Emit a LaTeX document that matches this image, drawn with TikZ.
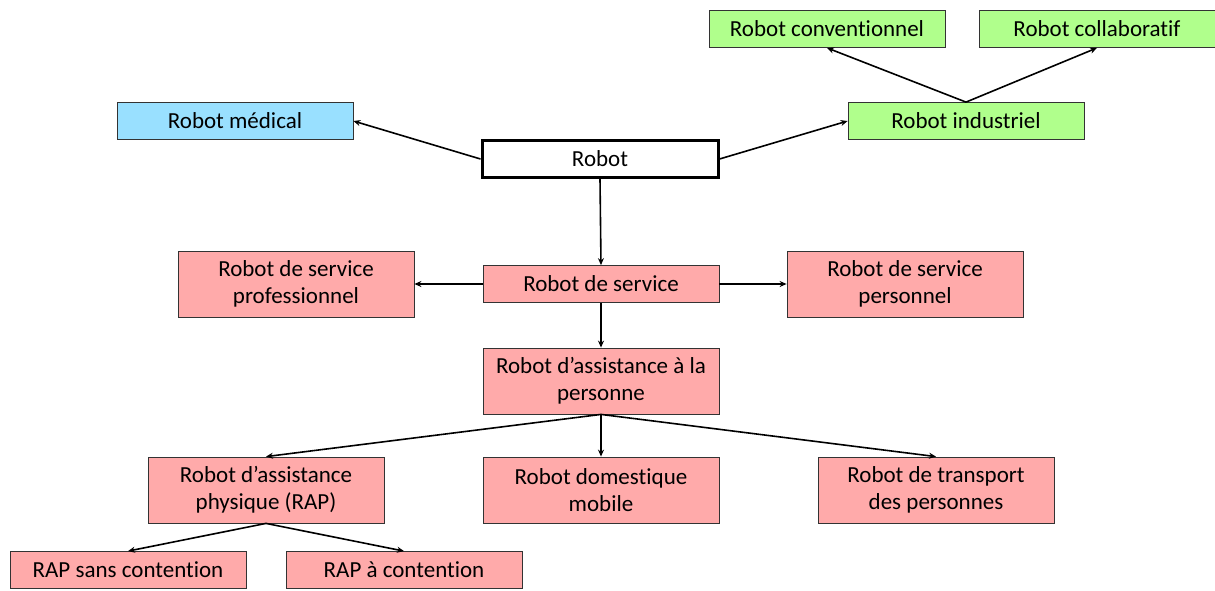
\documentclass[tikz,border=0pt]{standalone}
\usepackage{fontspec}
\setmainfont[Ligatures=NoCommon]{Carlito}
\usetikzlibrary{arrows.meta}

\definecolor{boxpink}{RGB}{255,170,170}
\definecolor{boxgreen}{RGB}{176,255,140}
\definecolor{boxblue}{RGB}{153,224,255}

\begin{document}
\begin{tikzpicture}[x=1pt,y=-1pt,
    every node/.style={font=\fontsize{23}{27}\selectfont, align=center},
    box/.style={draw=black!80, line width=0.8pt, minimum width=236pt, minimum height=37pt, inner sep=2pt},
    tallbox/.style={box, minimum height=66pt},
    link/.style={-{Stealth[length=7pt,width=6pt]}, line width=1.6pt}]

\useasboundingbox (0,0) rectangle (1215,590);

% Top level
\node[  box, draw=black, line width=3pt, fill=white
    ] (robot) at (600,159) {Robot};
\node[  box, fill=boxblue
    ] (medical) at (235,121) {Robot médical};
\node[  box, fill=boxgreen
    ] (industriel) at (966,121) {Robot industriel};
\node[  box, fill=boxgreen
    ] (conventionnel) at (827,29) {Robot conventionnel};
\node[  box, fill=boxgreen
    ] (collaboratif) at (1097,29) {Robot collaboratif};

% Service robots
\node[  box, fill=boxpink
    ] (service) at (601,284) {Robot de service};
\node[  tallbox, fill=boxpink
    ] (professionnel) at (296,284) {Robot de service\\professionnel};
\node[  tallbox, fill=boxpink
    ] (personnel) at (905,284) {Robot de service\\personnel};
\node[  tallbox, fill=boxpink
    ] (assistance) at (601,381) {Robot d’assistance à la\\personne};

% Assistance robots
\node[  tallbox, fill=boxpink
    ] (physique) at (266,490) {Robot d’assistance\\physique (RAP)};
\node[  tallbox, fill=boxpink
    ] (domestique) at (601,490) {Robot domestique\\mobile};
\node[  tallbox, fill=boxpink
    ] (transport) at (936,490) {Robot de transport\\des personnes};
\node[  box, fill=boxpink
    ] (sanscontention) at (128,570) {RAP sans contention};
\node[  box, fill=boxpink
    ] (aveccontention) at (404,570) {RAP à contention};

% Arrows
\draw
    (robot.west) edge[link] (medical.east)
    (robot.east) edge[link] (industriel.west)
    (industriel.north) edge[link] (conventionnel.south)
    (industriel.north) edge[link] (collaboratif.south)
    (robot.south) edge[link] (service.north)
    (service.west) edge[link] (professionnel.east)
    (service.east) edge[link] (personnel.west)
    (service.south) edge[link] (assistance.north)
    (assistance.south) edge[link] (physique.north)
    (assistance.south) edge[link] (domestique.north)
    (assistance.south) edge[link] (transport.north)
    (physique.south) edge[link] (sanscontention.north)
    (physique.south) edge[link] (aveccontention.north);
\end{tikzpicture}
\end{document}
